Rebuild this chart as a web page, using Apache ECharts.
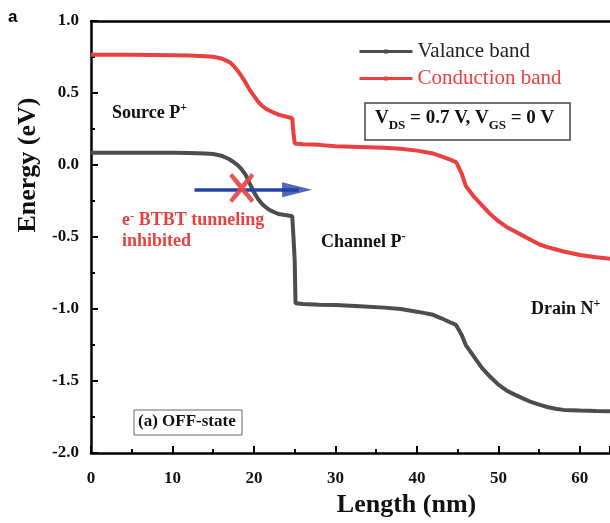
<!DOCTYPE html>
<html>
<head>
<meta charset="utf-8">
<script src="https://cdn.jsdelivr.net/npm/echarts@6/dist/echarts.min.js"></script>
<style>
  html, body { margin: 0; padding: 0; background: #fff; }
  #chart { width: 610px; height: 523px; }
</style>
</head>
<body>
<div id="chart"></div>
<script>
// valence band (gray)
const vbX = [0, 5, 10, 12, 14, 15, 16, 17, 17.5, 18, 18.5, 19, 19.5, 20, 20.5, 21, 21.5, 22, 23, 24, 24.7, 24.85, 25, 25.1, 26, 28, 30, 33, 36, 38, 40, 42, 43, 44, 44.8, 45, 45.5, 46, 47, 48, 49, 50, 51, 52, 53, 54, 55, 56, 57, 58, 60, 62, 63.7];
const vbE = [0.085, 0.085, 0.085, 0.084, 0.08, 0.076, 0.065, 0.04, 0.02, 0.0, -0.03, -0.07, -0.13, -0.19, -0.235, -0.27, -0.295, -0.315, -0.34, -0.348, -0.355, -0.5, -0.66, -0.96, -0.965, -0.97, -0.972, -0.98, -0.99, -1.0, -1.018, -1.04, -1.064, -1.09, -1.11, -1.13, -1.18, -1.25, -1.33, -1.41, -1.47, -1.525, -1.565, -1.594, -1.62, -1.645, -1.663, -1.68, -1.692, -1.7, -1.705, -1.708, -1.71];

// conduction band (red)
const cbX = [0, 5, 10, 12, 14, 15, 16, 17, 17.5, 18, 18.5, 19, 19.5, 20, 20.5, 21, 21.5, 22, 23, 24, 24.7, 24.8, 24.9, 25, 26, 28, 30, 33, 36, 38, 40, 42, 43, 44, 44.8, 45, 45.5, 46, 47, 48, 49, 50, 51, 52, 53, 54, 55, 56, 57, 58, 60, 62, 63.7];
const cbE = [0.765, 0.765, 0.762, 0.76, 0.755, 0.752, 0.74, 0.715, 0.69, 0.655, 0.615, 0.57, 0.52, 0.48, 0.44, 0.41, 0.39, 0.375, 0.35, 0.335, 0.325, 0.25, 0.2, 0.15, 0.145, 0.14, 0.13, 0.125, 0.12, 0.113, 0.1, 0.08, 0.06, 0.04, 0.02, 0.0, -0.06, -0.145, -0.22, -0.28, -0.34, -0.39, -0.43, -0.46, -0.49, -0.52, -0.55, -0.57, -0.585, -0.6, -0.625, -0.64, -0.65];

// blocked tunneling arrow and the cross over it
const arrowFrom = [12.7, -0.172];
const arrowTo = [25.5, -0.172];
const arrowHead = [25.3, -0.172];
const crossAt = [18.5, -0.159];

const serif = '"Liberation Serif", "Times New Roman", serif';
const red = '#e8413f';
const gray = '#4d4d4d';
const blue = '#2541a8';

const pairs = (xs, ys) => xs.map((x, i) => [x, ys[i]]);

const chart = echarts.init(document.getElementById('chart'));

const supText = (left, top, main, sup, color) => ({
  type: 'text', left: left, top: top,
  style: {
    text: '{m|' + main + '}{s|' + sup + '}',
    rich: {
      m: { fontFamily: serif, fontSize: 18, fontWeight: 'bold', fill: color, lineHeight: 22 },
      s: { fontFamily: serif, fontSize: 12, fontWeight: 'bold', fill: color, verticalAlign: 'top', lineHeight: 22 }
    }
  }
});

const option = {
  animation: false,
  grid: { left: 91, top: 21, right: 0, bottom: 68 },
  legend: {
    orient: 'vertical',
    left: 358,
    top: 41,
    padding: 0,
    itemWidth: 53,
    itemHeight: 5,
    itemGap: 6,
    lineStyle: { width: 3 },
    textStyle: { fontFamily: serif, fontSize: 21 },
    data: [
      { name: 'Valance band', textStyle: { color: '#222' } },
      { name: 'Conduction band', textStyle: { color: red } }
    ]
  },
  xAxis: [{
    type: 'value',
    min: 0,
    max: 63.7,
    interval: 10,
    name: 'Length (nm)',
    nameLocation: 'middle',
    nameGap: 36,
    nameTextStyle: { fontFamily: serif, fontSize: 26, fontWeight: 'bold', color: '#111', padding: [0, 0, 0, 112] },
    axisLine: { onZero: false, lineStyle: { color: '#000', width: 2.5 } },
    axisTick: { inside: true, length: 7, lineStyle: { color: '#000', width: 2 } },
    minorTick: { show: true, splitNumber: 2, length: 4, lineStyle: { color: '#000', width: 2 } },
    axisLabel: { showMaxLabel: false, margin: 17, fontFamily: serif, fontSize: 17, fontWeight: 'bold', color: '#111' },
    splitLine: { show: false }
  }, {
    type: 'value',
    position: 'top',
    min: 0,
    max: 63.7,
    axisLine: { show: true, onZero: false, lineStyle: { color: '#000', width: 2.5 } },
    axisTick: { show: false },
    axisLabel: { show: false },
    splitLine: { show: false }
  }],
  yAxis: {
    type: 'value',
    min: -2,
    max: 1,
    interval: 0.5,
    name: 'Energy (eV)',
    nameLocation: 'middle',
    nameGap: 46,
    nameTextStyle: { fontFamily: serif, fontSize: 26, fontWeight: 'bold', color: '#111', padding: [0, 0, 0, 144] },
    axisLine: { show: true, onZero: false, lineStyle: { color: '#000', width: 2.5 } },
    axisTick: { inside: true, length: 7, lineStyle: { color: '#000', width: 2 } },
    minorTick: { show: true, splitNumber: 2, length: 4, lineStyle: { color: '#000', width: 2 } },
    axisLabel: {
      margin: 12, fontFamily: serif, fontSize: 17, fontWeight: 'bold', color: '#111',
      formatter: v => v.toFixed(1)
    },
    splitLine: { show: false }
  },
  series: [
    {
      name: 'Valance band',
      type: 'line',
      data: pairs(vbX, vbE),
      symbol: 'rect',
      showSymbol: false,
      itemStyle: { color: gray },
      lineStyle: { color: gray, width: 4 },
      z: 3
    },
    {
      name: 'Conduction band',
      type: 'line',
      data: pairs(cbX, cbE),
      symbol: 'rect',
      showSymbol: false,
      itemStyle: { color: red },
      lineStyle: { color: red, width: 4 },
      z: 3
    },
    {
      name: 'arrow',
      type: 'scatter',
      data: [arrowHead],
      symbol: 'triangle',
      symbolRotate: -90,
      symbolSize: [15, 30],
      itemStyle: { color: blue },
      silent: true,
      z: 4,
      markLine: {
        silent: true,
        symbol: 'none',
        label: { show: false },
        lineStyle: { color: blue, width: 3.5, type: 'solid' },
        data: [[{ coord: arrowFrom }, { coord: arrowTo }]]
      }
    },
    {
      name: 'cross',
      type: 'scatter',
      data: [crossAt],
      symbol: 'path://M3,0 L12.5,11 L22,0 L25,3 L15.5,15 L25,27 L22,30 L12.5,19 L3,30 L0,27 L9.5,15 L0,3 Z',
      symbolSize: [25, 30],
      itemStyle: { color: '#e44848', opacity: 0.92 },
      silent: true,
      z: 5
    }
  ],
  graphic: [
    {
      type: 'text', left: 8, top: 9,
      style: { text: 'a', font: 'bold 17px "Liberation Sans", Arial, sans-serif', fill: '#000' }
    },
    supText(112, 102, 'Source P', '+', '#111'),
    supText(321, 231, 'Channel P', '-', '#111'),
    supText(531, 298, 'Drain N', '+', '#111'),
    {
      type: 'text', left: 122, top: 210,
      style: {
        text: '{m|e}{s|-}{m| BTBT tunneling}\n{m|inhibited}',
        rich: {
          m: { fontFamily: serif, fontSize: 18, fontWeight: 'bold', fill: red, lineHeight: 21 },
          s: { fontFamily: serif, fontSize: 13, fontWeight: 'bold', fill: red, verticalAlign: 'top', lineHeight: 21 }
        }
      }
    },
    {
      type: 'rect',
      shape: { x: 365, y: 103, width: 205, height: 37 },
      style: { fill: '#fff', stroke: '#444', lineWidth: 1.5 }
    },
    {
      type: 'text', left: 375, top: 109,
      style: {
        text: '{m|V}{d|DS}{m| = 0.7 V, V}{d|GS}{m| = 0 V}',
        rich: {
          m: { fontFamily: serif, fontSize: 19, fontWeight: 'bold', fill: '#111', lineHeight: 22 },
          d: { fontFamily: serif, fontSize: 13, fontWeight: 'bold', fill: '#111', verticalAlign: 'bottom', lineHeight: 27 }
        }
      }
    },
    {
      type: 'rect',
      shape: { x: 134, y: 410, width: 108, height: 25 },
      style: { fill: '#fff', stroke: '#666', lineWidth: 1 }
    },
    {
      type: 'text', left: 138, top: 413,
      style: { text: '(a) OFF-state', font: 'bold 17px "Liberation Serif", serif', fill: '#111' }
    }
  ]
};

chart.setOption(option);
</script>
</body>
</html>
